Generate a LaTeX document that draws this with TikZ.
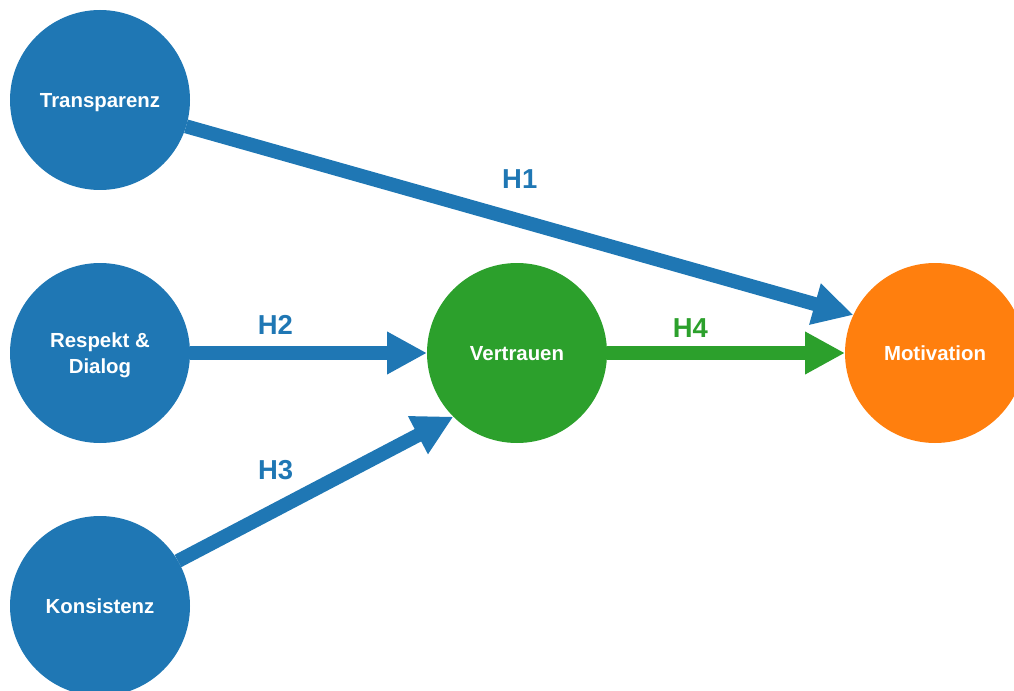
\documentclass[tikz,border=0pt]{standalone}
\usepackage{fontspec}
\setmainfont{Liberation Sans}
\usepackage{tikz}
\usetikzlibrary{positioning,arrows.meta}
\definecolor{hblue}{HTML}{1F77B4}
\definecolor{hgreen}{HTML}{2CA02C}
\definecolor{horange}{HTML}{FF7F0E}
\tikzset{
  factor/.style ={circle, fill=hblue, minimum size=4.5cm, inner sep=0pt, outer sep=0pt, align=center, text depth=0pt, text=white, font=\bfseries\fontsize{14.5}{19}\selectfont},
  hyp/.style    ={font=\bfseries\fontsize{19.5}{23}\selectfont},
  arr/.style    ={-{Triangle[length=1cm, width=1cm]}, line width=0.35cm},
}

\begin{document}
\begin{tikzpicture}
  \clip (0,0) rectangle (25.35,17.25);

  \node[factor] (trans) at (2.5,14.75)    {Transparenz};
  \node[factor] (resp)  at (2.5,8.425)    {Respekt \&\\Dialog};
  \node[factor] (kons)  at (2.5,2.1)      {Konsistenz};
  \node[factor, fill=hgreen]  (vert) at (12.925,8.425) {Vertrauen};
  \node[factor, fill=horange] (moti) at (23.375,8.425) {Motivation};

  % Hypothesen
  \draw[arr, hblue] (trans.-17) -- (moti.155) node[pos=0.5, above=0.5cm, hyp]{H1};
  \draw[arr, hblue] (resp)  -- (vert) node[pos=0.36, above=0.16cm, hyp]{H2};
  \draw[arr, hblue] (kons.30) -- (vert.225) node[pos=0.355, above=0.46cm, hyp]{H3};
  \draw[arr, hgreen] (vert) -- (moti) node[pos=0.35, above=0.1cm, hyp, text=hgreen]{H4};
\end{tikzpicture}
\end{document}
